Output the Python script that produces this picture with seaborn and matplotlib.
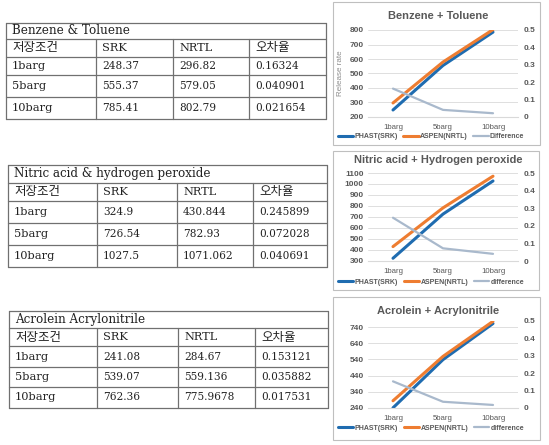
import matplotlib
matplotlib.use('Agg')
import matplotlib.pyplot as plt
import seaborn as sns
import pandas as pd
from matplotlib.patches import Rectangle
from matplotlib.ticker import FuncFormatter

# data
conditions = ['1barg', '5barg', '10barg']

bt_srk = [248.37, 555.37, 785.41]
bt_nrtl = [296.82, 579.05, 802.79]
bt_err = [0.16324, 0.040901, 0.021654]

na_srk = [324.9, 726.54, 1027.5]
na_nrtl = [430.844, 782.93, 1071.062]
na_err = [0.245899, 0.072028, 0.040691]

aa_srk = [241.08, 539.07, 762.36]
aa_nrtl = [284.67, 559.136, 775.9678]
aa_err = [0.153121, 0.035882, 0.017531]

table_titles = ['Benzene & Toluene', 'Nitric acid & hydrogen peroxide', 'Acrolein Acrylonitrile']
table_header = ['저장조건', 'SRK', 'NRTL', '오차율']
chart_titles = ['Benzene + Toluene', 'Nitric acid + Hydrogen peroxide', 'Acrolein + Acrylonitrile']
diff_labels = ['Difference', 'difference', 'difference']
left_ticks = [[200, 300, 400, 500, 600, 700, 800],
              [300, 400, 500, 600, 700, 800, 900, 1000, 1100],
              [240, 340, 440, 540, 640, 740]]
left_lims = [(200, 800), (300, 1100), (240, 778)]
right_ticks = [0, 0.1, 0.2, 0.3, 0.4, 0.5]

sets = [(bt_srk, bt_nrtl, bt_err), (na_srk, na_nrtl, na_err), (aa_srk, aa_nrtl, aa_err)]

sns.set_style('white')
plt.rcParams['font.family'] = ['Liberation Sans', 'Noto Sans CJK KR']

BLUE = '#1F6CB0'
ORANGE = '#EE7D31'
GRAY = '#A9B9CC'
TXT = '#595959'

W, H = 549, 445
fig = plt.figure(figsize=(W / 100, H / 100), dpi=100)

# background layer in pixel units for tables and chart frames
bg = fig.add_axes([0, 0, 1, 1])
bg.set_xlim(0, W)
bg.set_ylim(H, 0)
bg.axis('off')

# table layout (pixels)
table_cols = [[6, 96, 173, 249, 326], [8, 97, 177, 253, 327], [9, 97, 178, 255, 328]]
table_rows = [[23, 39, 57, 75, 97, 119], [165, 183, 201, 223, 245, 267], [311, 328, 346, 367, 387, 408]]
serif = ['DejaVu Serif', 'Noto Sans CJK KR']

for t in range(3):
    cols, rows = table_cols[t], table_rows[t]
    srk, nrtl, err = sets[t]
    lc = '#707070'
    for y in rows:
        bg.plot([cols[0], cols[-1]], [y, y], color=lc, lw=0.9)
    for x in [cols[0], cols[-1]]:
        bg.plot([x, x], [rows[0], rows[-1]], color=lc, lw=0.9)
    for x in cols[1:-1]:
        bg.plot([x, x], [rows[1], rows[-1]], color=lc, lw=0.9)
    bg.text(cols[0] + 6, (rows[0] + rows[1]) / 2, table_titles[t], family=serif,
            fontsize=8.6, va='center', ha='left', color='#222222')
    # header row
    yc = (rows[1] + rows[2]) / 2
    for c, val in enumerate(table_header):
        size = 8.2 if val.isascii() else 9
        bg.text(cols[c] + 6, yc, val, family=serif, fontsize=size,
                va='center', ha='left', color='#222222')
    # value rows
    for r in range(3):
        yc = (rows[r + 2] + rows[r + 3]) / 2
        row = [conditions[r], str(srk[r]), str(nrtl[r]), str(err[r])]
        for c, val in enumerate(row):
            size = 8.2 if c == 0 else 7.6
            bg.text(cols[c] + 6, yc, val, family=serif, fontsize=size,
                    va='center', ha='left', color='#222222')

# chart frames (pixels) and plot areas
frames = [(333, 2, 207, 143), (333, 151, 206, 139), (333, 297, 207, 143)]
plot_tops = [30, 173, 321]
plot_bottoms = [117, 261, 408]
title_y = [16, 160, 311]
legend_y = [137, 282, 428]
px_left, px_right = 368, 518

for i in range(3):
    fx, fy, fw, fh = frames[i]
    bg.add_patch(Rectangle((fx, fy), fw, fh, fill=False, edgecolor='#BFBFBF', lw=0.8))

    srk, nrtl, err = sets[i]
    df = pd.DataFrame({'condition': conditions, 'srk': srk, 'nrtl': nrtl, 'err': err})

    ax = fig.add_axes([px_left / W, 1 - plot_bottoms[i] / H,
                       (px_right - px_left) / W, (plot_bottoms[i] - plot_tops[i]) / H])
    ax.set_facecolor('none')
    sns.lineplot(data=df, x='condition', y='srk', ax=ax, color=BLUE, lw=2.2,
                 sort=False, label='PHAST(SRK)')
    sns.lineplot(data=df, x='condition', y='nrtl', ax=ax, color=ORANGE, lw=2.2,
                 sort=False, label='ASPEN(NRTL)')
    ax2 = ax.twinx()
    sns.lineplot(data=df, x='condition', y='err', ax=ax2, color=GRAY, lw=1.6,
                 sort=False, label=diff_labels[i])

    h1, l1 = ax.get_legend_handles_labels()
    h2, l2 = ax2.get_legend_handles_labels()
    for a in (ax, ax2):
        if a.get_legend() is not None:
            a.get_legend().remove()

    ax.set_xlim(-0.5, 2.5)
    ax.set_ylim(*left_lims[i])
    ax.set_yticks(left_ticks[i])
    ax2.set_ylim(0, 0.5)
    ax2.set_yticks(right_ticks)
    ax2.yaxis.set_major_formatter(FuncFormatter(lambda v, p: f'{v:g}'))
    ax.set_xlabel('')
    ax.set_ylabel('')
    ax2.set_ylabel('')

    ax.yaxis.grid(True, color='#D9D9D9', lw=0.6)
    ax.set_axisbelow(True)
    for a in (ax, ax2):
        for s in a.spines.values():
            s.set_visible(False)
        a.tick_params(length=0, labelsize=6, labelcolor=TXT)
    ax.spines['bottom'].set_visible(True)
    ax.spines['bottom'].set_color('#D9D9D9')
    ax.tick_params(axis='y', pad=3)
    ax.tick_params(axis='x', pad=5, labelsize=5.6)
    ax2.tick_params(axis='y', pad=4)
    for lab in ax.get_yticklabels() + ax2.get_yticklabels():
        lab.set_fontweight('bold')

    if i == 0:
        bg.text(340, 73, 'Release rate', rotation=90, fontsize=5.8, color='#8C8C8C',
                ha='center', va='center')

    bg.text(438, title_y[i], chart_titles[i], fontsize=8, fontweight='bold',
            color=TXT, ha='center', va='center')

    fig.legend(h1 + h2, l1 + l2, loc='center', bbox_to_anchor=(431 / W, 1 - legend_y[i] / H),
               ncol=3, frameon=False, prop={'size': 5, 'weight': 'bold'}, labelcolor=TXT,
               handlelength=2.2, columnspacing=0.8, handletextpad=0.2)

fig.savefig('out.png', dpi=100)
